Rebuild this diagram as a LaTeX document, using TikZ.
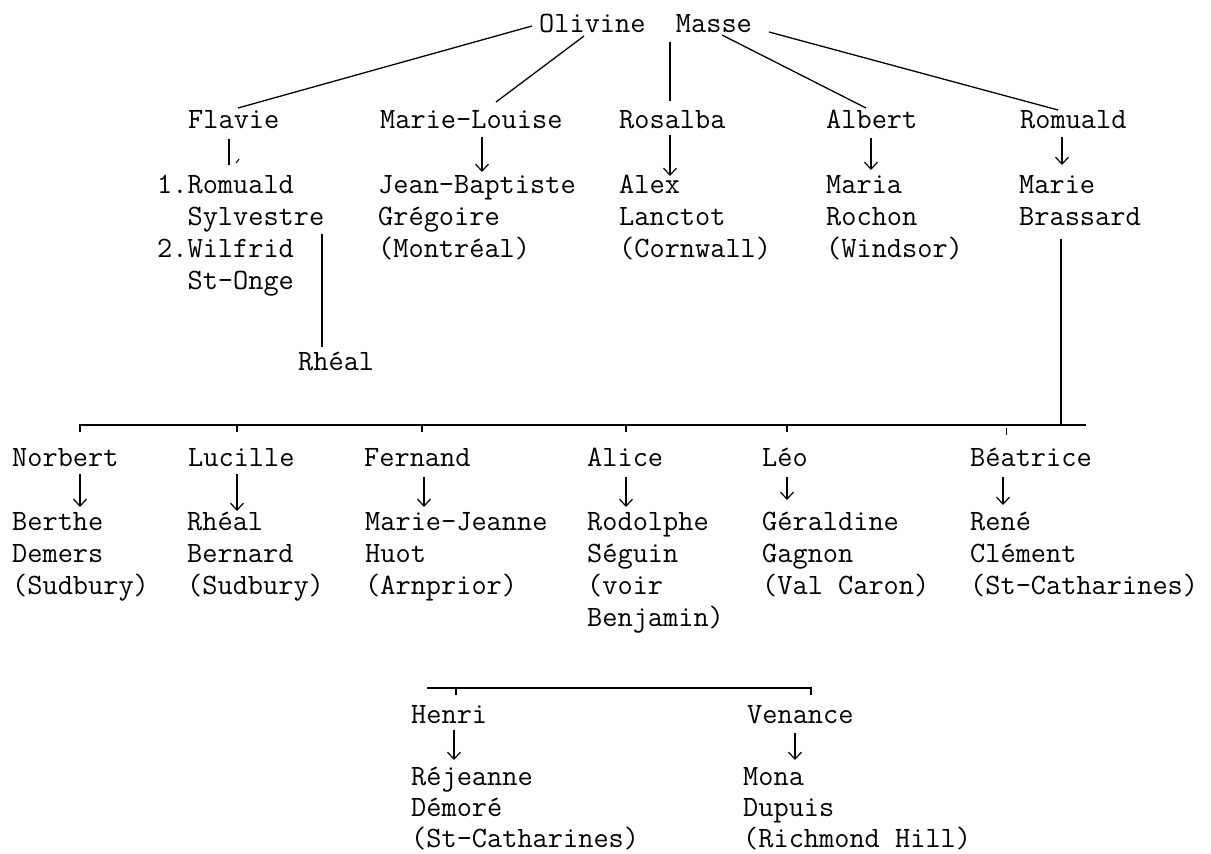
\documentclass[tikz,border=0pt]{standalone}
\usepackage{fontspec}
\usetikzlibrary{arrows.meta,calc}
\newcommand\famlines[1]{\begin{tabular}[t]{@{}l@{}}#1\end{tabular}}
\begin{document}
\begin{tikzpicture}[x=1pt,y=-1pt,
  lbl/.style={anchor=base west, inner sep=0pt, font=\ttfamily\fontsize{29.5}{32}\selectfont, text=black},
  lbltight/.style={lbl, font=\ttfamily\fontsize{29.5}{31}\selectfont},
  ln/.style={line width=1.3pt, black},
  arr/.style={ln, -{Straight Barb[length=7pt,width=13pt,line width=1.2pt]}},
]
\useasboundingbox (0,0) rectangle (1211,854);
\fill[white] (0,0) rectangle (1211,854);

% generation 0
\node[lbl] (root) at (539,32) {Olivine\ \ Masse};

% generation 1
\node[lbl] (flavie)  at (188,128) {Flavie};
\node[lbl] (mlouise) at (380,128) {Marie-Louise};
\node[lbl] (rosalba) at (619,128) {Rosalba};
\node[lbl] (albert)  at (826,128) {Albert};
\node[lbl] (romuald) at (1020,128) {Romuald};

\node[lbl] (fsp)   at (157,193) {\famlines{1.Romuald\\\ \ Sylvestre\\2.Wilfrid\\\ \ St-Onge}};
\node[lbl] (jb)    at (378,193) {\famlines{Jean-Baptiste\\Grégoire\\(Montréal)}};
\node[lbl] (alex)  at (619,193) {\famlines{Alex\\Lanctot\\(Cornwall)}};
\node[lbl] (maria) at (826,193) {\famlines{Maria\\Rochon\\(Windsor)}};
\node[lbl] (marie) at (1019,193) {\famlines{Marie\\Brassard}};
\node[lbl] (rheal) at (298,370) {Rhéal};

% connectors from root
\draw[ln] ($(root.base west)+(-7,-6)$) -- ($(flavie.base west)+(50,-20)$);
\draw[ln] ($(root.base west)+(45,4)$) -- ($(mlouise.base west)+(116,-26)$);
\draw[ln] ($(root.base west)+(131,10)$) -- ($(rosalba.base west)+(51,-27)$);
\draw[ln] ($(root.base west)+(183,3)$) -- ($(albert.base west)+(40,-20)$);
\draw[ln] ($(root.base west)+(230,0)$) -- ($(romuald.base west)+(38,-18)$);

% marriages
\draw[ln] ($(flavie.base west)+(41,11)$) -- ($(fsp.base west)+(72,-28)$);
\draw[line width=1pt] ($(fsp.base west)+(79,-30)$) -- ($(fsp.base west)+(82,-34)$);
\draw[arr] ($(mlouise.base west)+(102,9)$) -- ($(jb.base west)+(104,-21)$);
\draw[arr] ($(rosalba.base west)+(51,7)$) -- ($(alex.base west)+(51,-17)$);
\draw[arr] ($(albert.base west)+(45,10)$) -- ($(maria.base west)+(45,-23)$);
\draw[arr] ($(romuald.base west)+(42,9)$) -- ($(marie.base west)+(43,-28)$);
\draw[ln] ($(fsp.base west)+(165,41)$) -- ($(rheal.base west)+(24,-23)$);

% generation 2
\node[lbl] (norbert) at (12,466)  {Norbert};
\node[lbl] (lucille) at (188,466) {Lucille};
\node[lbl] (fernand) at (364,466) {Fernand};
\node[lbl] (alice)   at (587,466) {Alice};
\node[lbl] (leo)     at (762,466) {Léo};
\node[lbl] (beatrice) at (970,466) {Béatrice};

\node[lbl] (berthe) at (12,530)  {\famlines{Berthe\\Demers\\(Sudbury)}};
\node[lbl] (rbern)  at (187,530) {\famlines{Rhéal\\Bernard\\(Sudbury)}};
\node[lbl] (mjh)    at (365,530) {\famlines{Marie-Jeanne\\Huot\\(Arnprior)}};
\node[lbl] (rodolphe) at (587,530) {\famlines{Rodolphe\\Séguin\\(voir\\Benjamin)}};
\node[lbl] (geraldine) at (762,530) {\famlines{Géraldine\\Gagnon\\(Val Caron)}};
\node[lbl] (rene)   at (970,530) {\famlines{René\\Clément\\(St-Catharines)}};

% sibling bar of Romuald's children
\coordinate (barL) at (80,425);
\coordinate (barR) at (1086,425);
\draw[ln] ($(marie.base west)+(42,46)$) -- ($(marie.base west)+(42,232)$);
\draw[ln] ($(barL)+(0,7)$) -- (barL) -- (barR);
\foreach \x in {237,422,626,787}{\draw[ln] (\x,425) -- (\x,432);}
\draw[line width=0.9pt] (1006,428) -- (1006,435);

\draw[arr] ($(norbert.base west)+(68,8)$) -- ($(berthe.base west)+(68,-23)$);
\draw[arr] ($(lucille.base west)+(49,8)$) -- ($(rbern.base west)+(50,-19)$);
\draw[arr] ($(fernand.base west)+(60,11)$) -- ($(mjh.base west)+(59,-23)$);
\draw[arr] ($(alice.base west)+(39,11)$) -- ($(rodolphe.base west)+(39,-23)$);
\draw[arr] ($(leo.base west)+(25,11)$) -- ($(geraldine.base west)+(25,-30)$);
\draw[arr] ($(beatrice.base west)+(33,11)$) -- ($(rene.base west)+(33,-25)$);

% generation 3
\node[lbl] (henri)   at (411,723) {Henri};
\node[lbl] (venance) at (747,723) {Venance};
\node[lbltight] (rejeanne) at (411,785) {\famlines{Réjeanne\\Démoré\\(St-Catharines)}};
\node[lbltight] (mona)    at (743,785) {\famlines{Mona\\Dupuis\\(Richmond Hill)}};

\coordinate (bar2L) at (427,688);
\coordinate (bar2R) at (812,688);
\draw[ln] (bar2L) -- (bar2R);
\draw[ln] (456,688) -- (456,695);
\draw[ln] (811,688) -- (811,695);

\draw[arr] ($(henri.base west)+(43,7)$) -- ($(rejeanne.base west)+(43,-25)$);
\draw[arr] ($(venance.base west)+(48,10)$) -- ($(mona.base west)+(52,-25)$);
\end{tikzpicture}
\end{document}
